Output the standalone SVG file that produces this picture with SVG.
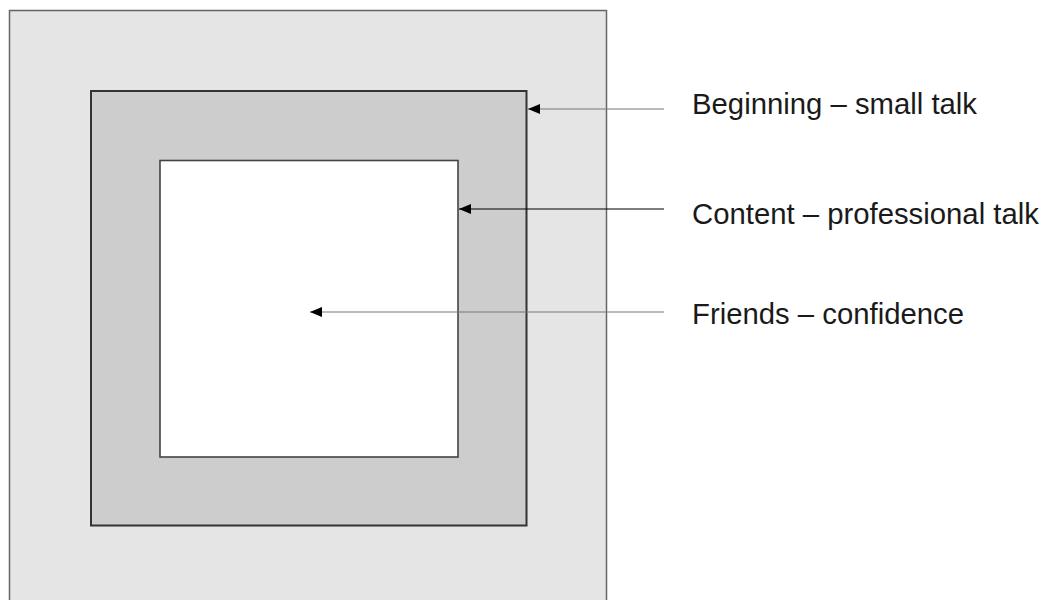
<svg xmlns="http://www.w3.org/2000/svg" width="1045" height="600" viewBox="0 0 1045 600">
<defs>
<style>
.lbl{font-family:"Liberation Sans",Arial,sans-serif;font-size:29.3px;fill:#1a1a1a}
.con{fill:none;stroke-width:1.2}
</style>
<marker id="ah" viewBox="0 0 12 10" refX="12" refY="5" markerWidth="12" markerHeight="10" markerUnits="userSpaceOnUse" orient="auto">
<path d="M12,5 L0,0 L0,10 Z" fill="#000"/>
</marker>
</defs>
<rect width="1045" height="600" fill="#fff"/>
<g id="outer">
<rect x="9.5" y="10.5" width="597" height="600" fill="#e5e5e5" stroke="#666" stroke-width="1.5"/>
</g>
<g id="middle">
<rect x="91" y="91" width="435.5" height="434.5" fill="#cdcdcd" stroke="#333" stroke-width="2"/>
</g>
<g id="inner">
<rect x="160" y="160.5" width="298" height="296.5" fill="#fff" stroke="#444" stroke-width="1.6"/>
</g>
<g id="connectors">
<path class="con" d="M664,109 H528" stroke="#777" marker-end="url(#ah)"/>
<path class="con" d="M664,209 H459" stroke="#000" marker-end="url(#ah)"/>
<path class="con" d="M664,312 H310" stroke="#777" marker-end="url(#ah)"/>
</g>
<g id="label-beginning"><text class="lbl" x="692" y="114">Beginning – small talk</text></g>
<g id="label-content"><text class="lbl" x="692" y="224">Content – professional talk</text></g>
<g id="label-friends"><text class="lbl" x="692" y="324">Friends – confidence</text></g>
</svg>
